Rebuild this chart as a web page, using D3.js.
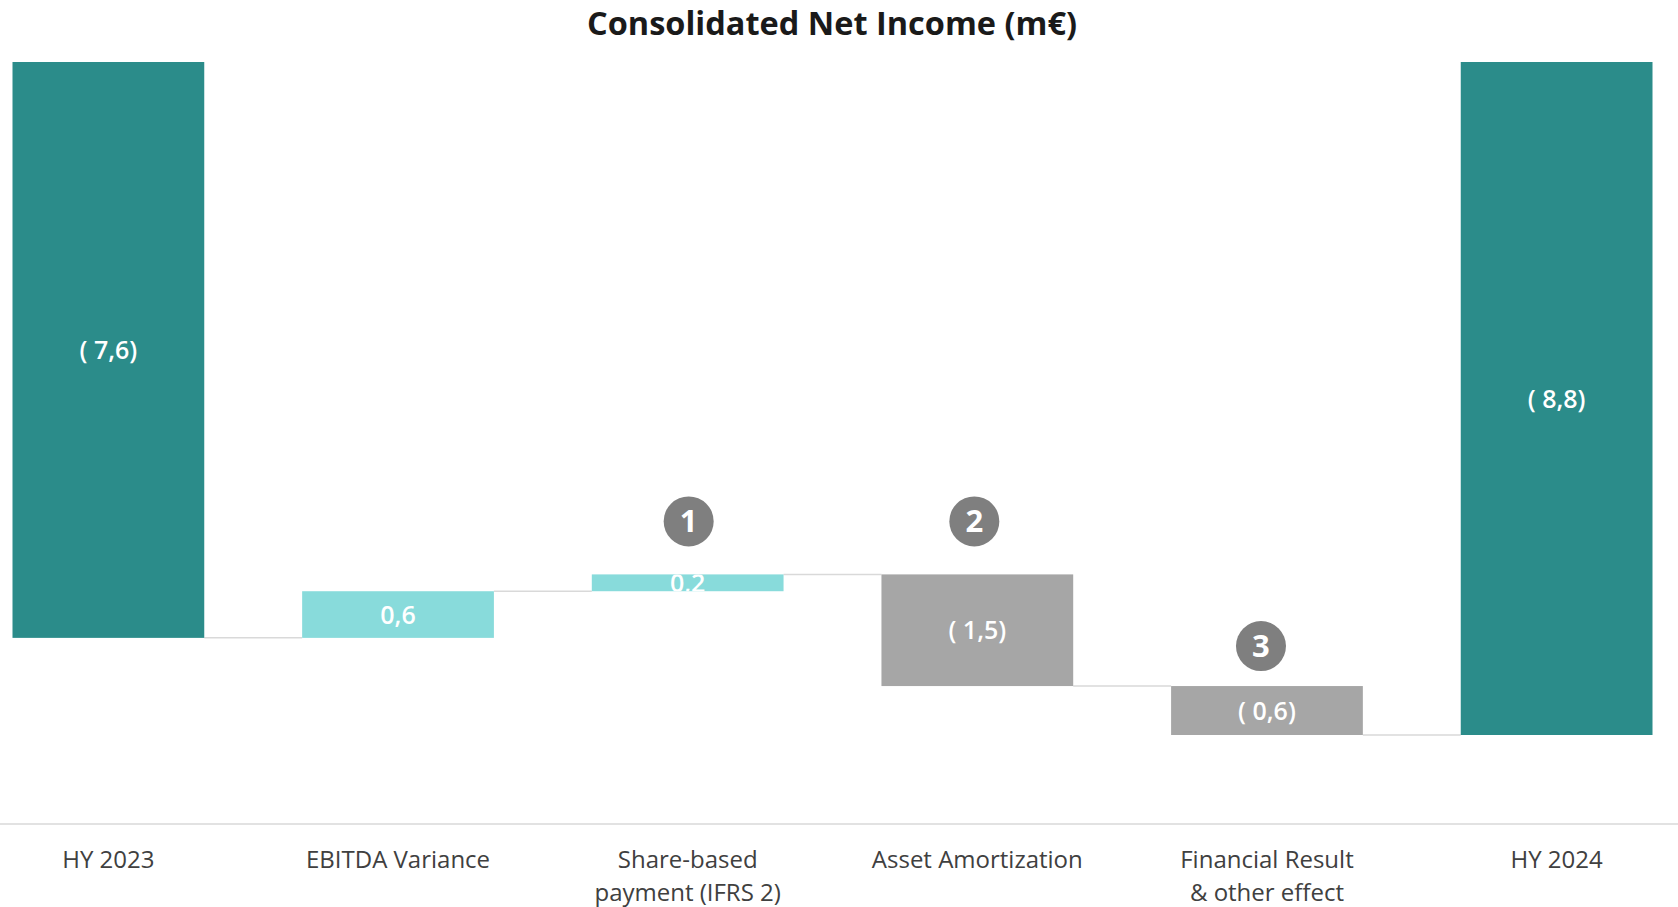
<!DOCTYPE html>
<html lang="en">
<head>
<meta charset="utf-8">
<script src="https://d3js.org/d3.v7.min.js"></script>
<style>
  body { margin: 0; background: #fff; }
  svg { display: block; }
</style>
</head>
<body>
<script>
// chart data
const categories = ["HY 2023", "EBITDA Variance", "Share-based payment (IFRS 2)",
                    "Asset Amortization", "Financial Result & other effect", "HY 2024"];
const tickLines = [["HY 2023"], ["EBITDA Variance"], ["Share-based", "payment (IFRS 2)"],
                   ["Asset Amortization"], ["Financial Result", "& other effect"], ["HY 2024"]];
const kinds = ["total", "delta", "delta", "delta", "delta", "total"];
const values = [-7.53, 0.61, 0.22, -1.46, -0.64, -8.8];
const valueLabels = ["( 7,6)", "0,6", "0,2", "( 1,5)", "( 0,6)", "( 8,8)"];
const markerNums = ["1", "2", "3"];
const markerCats = [2, 3, 4];

const width = 1678, height = 907;
const colors = { total: "#2b8c8a", up: "#88dbdb", down: "#a6a6a6", marker: "#7f7f7f", grid: "#d9d9d9" };

// build waterfall rows
let run = 0;
const rows = categories.map((c, i) => {
  let y0, y1;
  if (kinds[i] === "total") { y0 = 0; y1 = values[i]; run = values[i]; }
  else { y0 = run; y1 = run + values[i]; run = y1; }
  return { cat: c, i, y0, y1, end: run, kind: kinds[i], v: values[i], label: valueLabels[i] };
});

const x = d3.scaleBand().domain(categories).range([12.5, 1652.5]).paddingInner(0.338).paddingOuter(0);
const y = d3.scaleLinear().domain([0, -8.8]).range([62, 735]);

const svg = d3.select("body").append("svg").attr("width", width).attr("height", height)
  .style("font-family", "'Open Sans', 'Noto Sans', sans-serif");

// title
svg.append("text").attr("x", 832).attr("y", 35).attr("text-anchor", "middle")
  .attr("font-size", 32.5).attr("font-weight", 700).attr("fill", "#1a1a1a")
  .text("Consolidated Net Income (m€)");

// connectors
svg.append("g").selectAll("line").data(rows.slice(0, -1)).join("line")
  .attr("x1", d => x(d.cat) + x.bandwidth())
  .attr("x2", d => x(categories[d.i + 1]))
  .attr("y1", d => y(d.end)).attr("y2", d => y(d.end))
  .attr("stroke", colors.grid).attr("stroke-width", 1.5);

// bars
const fillOf = d => d.kind === "total" ? colors.total : (d.v >= 0 ? colors.up : colors.down);
svg.append("g").selectAll("rect").data(rows).join("rect")
  .attr("x", d => x(d.cat)).attr("width", x.bandwidth())
  .attr("y", d => Math.min(y(d.y0), y(d.y1)))
  .attr("height", d => Math.abs(y(d.y0) - y(d.y1)))
  .attr("fill", fillOf);

// value labels (clipped to their bar)
const defs = svg.append("defs");
rows.forEach(d => {
  defs.append("clipPath").attr("id", "clip" + d.i).append("rect")
    .attr("x", x(d.cat)).attr("width", x.bandwidth())
    .attr("y", Math.min(y(d.y0), y(d.y1))).attr("height", Math.abs(y(d.y0) - y(d.y1)));
});
svg.append("g").selectAll("text").data(rows).join("text")
  .attr("clip-path", d => `url(#clip${d.i})`)
  .attr("x", d => x(d.cat) + x.bandwidth() / 2)
  .attr("y", d => (y(d.y0) + y(d.y1)) / 2 + 9)
  .attr("text-anchor", "middle").attr("font-size", 25).attr("font-weight", 600)
  .attr("fill", "#fff").text(d => d.label);

// numbered markers above some bars
const markerLift = [53, 53, 40];
const markerShift = [1, -3, -6];
const mk = svg.append("g").selectAll("g").data(markerNums).join("g")
  .attr("transform", (n, k) => {
    const d = rows[markerCats[k]];
    return `translate(${x(d.cat) + x.bandwidth() / 2 + markerShift[k]},${Math.min(y(d.y0), y(d.y1)) - markerLift[k]})`;
  });
mk.append("circle").attr("r", 25).attr("fill", colors.marker);
mk.append("text").attr("text-anchor", "middle").attr("y", 11).attr("font-size", 31)
  .attr("font-weight", 700).attr("fill", "#fff").text(n => n);

// baseline axis and category labels
svg.append("line").attr("x1", 0).attr("x2", width).attr("y1", 824).attr("y2", 824)
  .attr("stroke", colors.grid).attr("stroke-width", 1.5);

const tl = svg.append("g").selectAll("text").data(categories).join("text")
  .attr("x", c => x(c) + x.bandwidth() / 2).attr("y", 868)
  .attr("text-anchor", "middle").attr("font-size", 24).attr("fill", "#404040");
tl.selectAll("tspan").data((c, i) => tickLines[i]).join("tspan")
  .attr("x", function() { return d3.select(this.parentNode).attr("x"); })
  .attr("dy", (t, j) => j === 0 ? 0 : 33).text(t => t);
</script>
</body>
</html>
